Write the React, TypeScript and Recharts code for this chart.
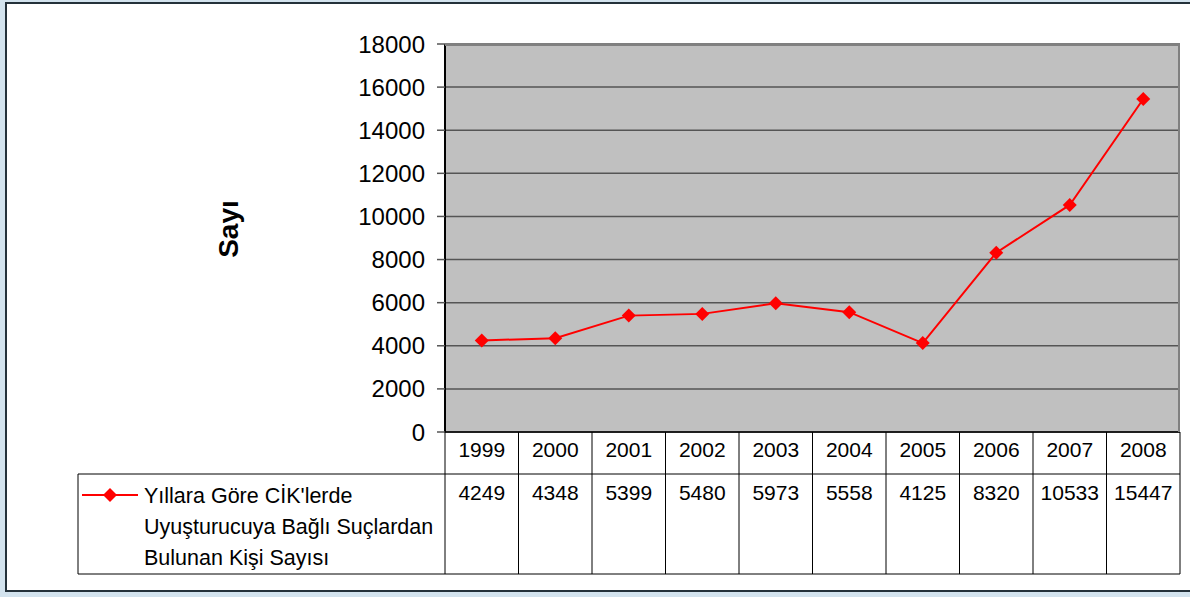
import React from 'react';
import { LineChart, Line, XAxis, YAxis, CartesianGrid } from 'recharts';

const years = ['1999', '2000', '2001', '2002', '2003', '2004', '2005', '2006', '2007', '2008'];
const counts = [4249, 4348, 5399, 5480, 5973, 5558, 4125, 8320, 10533, 15447];
const yTicks = [0, 2000, 4000, 6000, 8000, 10000, 12000, 14000, 16000, 18000];
const seriesLines = ["Yıllara Göre CİK'lerde", 'Uyuşturucuya Bağlı Suçlardan', 'Bulunan Kişi Sayısı'];
const yAxisTitle = 'Sayı';

const data = years.map((y, i) => ({ year: y, count: counts[i] }));

const W = 1190;
const H = 597;
const PLOT_L = 445;
const PLOT_R = 1180;
const PLOT_T = 44;
const PLOT_B = 432;
const ROW1_B = 474;
const ROW2_B = 574;
const LEGEND_L = 78;
const FONT = '"Liberation Sans", Arial, sans-serif';
const RED = '#FF0000';

const band = (PLOT_R - PLOT_L) / years.length;

const Diamond = (props: any) => {
  const { cx, cy, index } = props;
  if (cx == null || cy == null) return <g key={index} />;
  const r = 7;
  return (
    <polygon
      key={index}
      points={`${cx},${cy - r} ${cx + r},${cy} ${cx},${cy + r} ${cx - r},${cy}`}
      fill={RED}
      stroke="none"
    />
  );
};

const TableTick = (props: any) => {
  const { x, payload, index } = props;
  const cx = x;
  const left = cx - band / 2;
  const right = cx + band / 2;
  const value = counts[index];
  return (
    <g>
      <line x1={left} y1={PLOT_B} x2={left} y2={ROW2_B} stroke="#000" strokeWidth={1} />
      {index === years.length - 1 && (
        <line x1={right} y1={PLOT_B} x2={right} y2={ROW2_B} stroke="#000" strokeWidth={1} />
      )}
      <text x={cx} y={457} textAnchor="middle" fontFamily={FONT} fontSize={21} fill="#000">
        {payload.value}
      </text>
      <text x={cx} y={500} textAnchor="middle" fontFamily={FONT} fontSize={21} fill="#000">
        {value}
      </text>
      {index === 0 && (
        <g>
          <line x1={LEGEND_L} y1={ROW1_B} x2={PLOT_R} y2={ROW1_B} stroke="#000" strokeWidth={1} />
          <line x1={LEGEND_L} y1={ROW2_B} x2={PLOT_R} y2={ROW2_B} stroke="#000" strokeWidth={1} />
          <line x1={LEGEND_L} y1={ROW1_B} x2={LEGEND_L} y2={ROW2_B} stroke="#000" strokeWidth={1} />
          <line x1={82} y1={495} x2={138} y2={495} stroke={RED} strokeWidth={2} />
          <Diamond cx={110} cy={495} index={0} />
          {seriesLines.map((t, i) => (
            <text key={i} x={144} y={503 + i * 31} fontFamily={FONT} fontSize={21.5} fill="#000">
              {t}
            </text>
          ))}
        </g>
      )}
    </g>
  );
};

const YTitle = () => (
  <text
    x={228}
    y={229}
    transform="rotate(-90, 228, 229)"
    textAnchor="middle"
    dominantBaseline="central"
    fontFamily={FONT}
    fontSize={28}
    fontWeight="bold"
    fill="#000"
  >
    {yAxisTitle}
  </text>
);

export default function App() {
  return (
    <div style={{ position: 'absolute', left: 0, top: 0, width: W, height: H, background: '#D3E3EE', overflow: 'hidden' }}>
      <div
        style={{
          position: 'absolute',
          left: 5,
          top: 2,
          width: W,
          height: 590,
          boxSizing: 'border-box',
          border: '2px solid #24313A',
          background: '#FFFFFF',
        }}
      />
      <div style={{ position: 'absolute', left: 0, top: 0 }}>
        <LineChart
          width={W}
          height={H}
          data={data}
          margin={{ top: PLOT_T, right: W - PLOT_R, bottom: H - PLOT_B - 30, left: PLOT_L - 60 }}
        >
          <CartesianGrid
            vertical={false}
            fill="#C0C0C0"
            stroke="#555555"
            strokeWidth={1.5}
            fillOpacity={1}
          />
          <XAxis
            dataKey="year"
            height={30}
            padding={{ left: band / 2, right: band / 2 }}
            axisLine={{ stroke: '#000', strokeWidth: 1.5 }}
            tickLine={false}
            tick={<TableTick />}
            interval={0}
          />
          <YAxis
            width={60}
            domain={[0, 18000]}
            ticks={yTicks}
            interval={0}
            axisLine={{ stroke: '#000', strokeWidth: 2 }}
            tickLine={{ stroke: '#555555', strokeWidth: 1.5 }}
            tickSize={8}
            tickMargin={12}
            tick={{ fontFamily: FONT, fontSize: 24, fill: '#000' }}
            label={<YTitle />}
          />
          <Line
            type="linear"
            dataKey="count"
            stroke={RED}
            strokeWidth={2}
            dot={<Diamond />}
            activeDot={false}
            isAnimationActive={false}
          />
        </LineChart>
      </div>
      <div
        style={{
          position: 'absolute',
          left: PLOT_L,
          top: PLOT_T,
          width: PLOT_R - PLOT_L,
          height: PLOT_B - PLOT_T,
          boxSizing: 'border-box',
          borderTop: '2px solid #808080',
          borderRight: '2px solid #808080',
          pointerEvents: 'none',
        }}
      />
    </div>
  );
}
